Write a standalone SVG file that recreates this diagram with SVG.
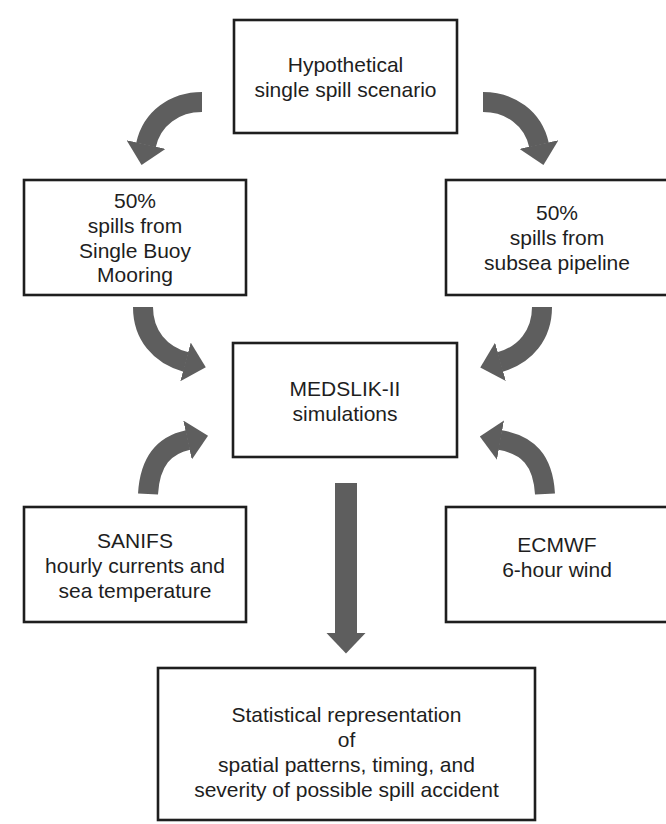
<svg xmlns="http://www.w3.org/2000/svg" width="666" height="824" viewBox="0 0 666 824">
<style>
.box{fill:#fff;stroke:#1e1e1e;stroke-width:2.6}
.t{font-family:"Liberation Sans",Arial,sans-serif;font-size:21px;fill:#1e1e1e;text-anchor:middle}
.arr{fill:none;stroke:#5e5e5e;stroke-width:20;marker-end:url(#head)}
</style>
<defs>
<marker id="head" markerUnits="userSpaceOnUse" markerWidth="21" markerHeight="40" viewBox="0 0 21 40" refX="0.5" refY="20" orient="auto">
<path d="M0,0 L21,20 L0,40 z" fill="#5e5e5e"/>
</marker>
</defs>
<rect width="666" height="824" fill="#fff"/>
<g id="connectors">
<path class="arr" d="M202,102 C175,102 152,118 146,145"/>
<path class="arr" d="M483,102 C510,102 533,118 539,145"/>
<path class="arr" d="M143,307 C143,335 160,355 186,362"/>
<path class="arr" d="M148,494 C150,460 165,445 188,440"/>
<path class="arr" d="M542,307 C542,335 525,355 500,362"/>
<path class="arr" d="M545,494 C543,460 528,445 500,440"/>
<path class="arr" style="stroke-width:22" d="M346,483 L346,633"/>
</g>
<g id="node-scenario">
<rect class="box" x="234" y="20" width="223" height="113"/>
<text class="t" x="345.5" y="72">Hypothetical</text>
<text class="t" x="345.5" y="97">single spill scenario</text>
</g>
<g id="node-sbm">
<rect class="box" x="24" y="180" width="222" height="115"/>
<text class="t" x="135" y="208">50%</text>
<text class="t" x="135" y="233">spills from</text>
<text class="t" x="135" y="258">Single Buoy</text>
<text class="t" x="135" y="282">Mooring</text>
</g>
<g id="node-pipeline">
<rect class="box" x="446" y="180" width="222" height="115"/>
<text class="t" x="557" y="220">50%</text>
<text class="t" x="557" y="245">spills from</text>
<text class="t" x="557" y="270">subsea pipeline</text>
</g>
<g id="node-medslik">
<rect class="box" x="233" y="343" width="224" height="114"/>
<text class="t" x="345" y="396">MEDSLIK-II</text>
<text class="t" x="345" y="421">simulations</text>
</g>
<g id="node-sanifs">
<rect class="box" x="24" y="507" width="222" height="115"/>
<text class="t" x="135" y="548">SANIFS</text>
<text class="t" x="135" y="573">hourly currents and</text>
<text class="t" x="135" y="598">sea temperature</text>
</g>
<g id="node-ecmwf">
<rect class="box" x="446" y="507" width="222" height="115"/>
<text class="t" x="557" y="552">ECMWF</text>
<text class="t" x="557" y="577">6-hour wind</text>
</g>
<g id="node-stats">
<rect class="box" x="158" y="668" width="377" height="152"/>
<text class="t" x="346.5" y="722">Statistical representation</text>
<text class="t" x="346.5" y="747">of</text>
<text class="t" x="346.5" y="772">spatial patterns, timing, and</text>
<text class="t" x="346.5" y="797">severity of possible spill accident</text>
</g>
</svg>
